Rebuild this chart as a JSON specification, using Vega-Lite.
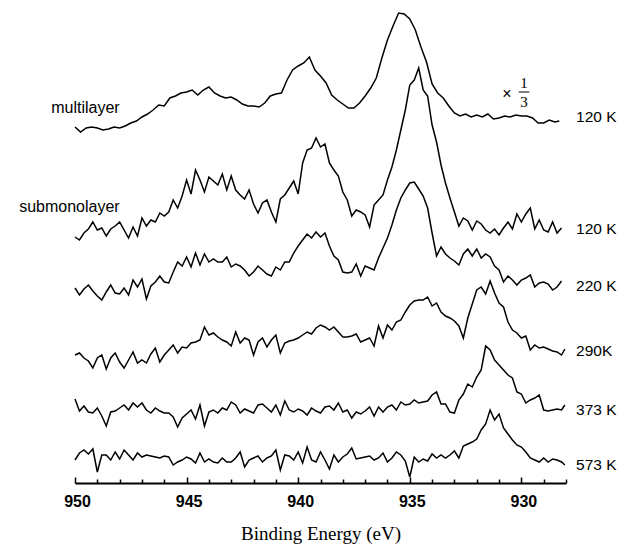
{
"$schema": "https://vega.github.io/schema/vega-lite/v6.json",
"width": 491, "height": 478,
"autosize": {"type": "none"},
"padding": {"left": 75, "top": 5, "right": 64, "bottom": 62},
"background": "white",
"config": {"view": {"stroke": null}},
"resolve": {"axis": {"x": "independent"}},
"datasets": {
"spectra": [
{"s":"m120","e":950,"v":356},{"s":"m120","e":949.75,"v":351},{"s":"m120","e":949.5,"v":355},{"s":"m120","e":949.25,"v":356},{"s":"m120","e":949,"v":355},{"s":"m120","e":948.75,"v":353},{"s":"m120","e":948.5,"v":354},{"s":"m120","e":948.25,"v":356},{"s":"m120","e":948,"v":355},{"s":"m120","e":947.75,"v":357},{"s":"m120","e":947.5,"v":360},{"s":"m120","e":947.25,"v":362},{"s":"m120","e":947,"v":366},{"s":"m120","e":946.75,"v":369},{"s":"m120","e":946.5,"v":373},{"s":"m120","e":946.25,"v":378},{"s":"m120","e":946,"v":377},{"s":"m120","e":945.75,"v":385},{"s":"m120","e":945.5,"v":387},{"s":"m120","e":945.25,"v":390},{"s":"m120","e":945,"v":391},{"s":"m120","e":944.75,"v":393},{"s":"m120","e":944.5,"v":388},{"s":"m120","e":944.25,"v":393},{"s":"m120","e":944,"v":396},{"s":"m120","e":943.75,"v":390},{"s":"m120","e":943.5,"v":387},{"s":"m120","e":943.25,"v":385},{"s":"m120","e":943,"v":386},{"s":"m120","e":942.75,"v":383},{"s":"m120","e":942.5,"v":379},{"s":"m120","e":942.25,"v":377},{"s":"m120","e":942,"v":377},{"s":"m120","e":941.75,"v":376},{"s":"m120","e":941.5,"v":380},{"s":"m120","e":941.25,"v":387},{"s":"m120","e":941,"v":389},{"s":"m120","e":940.75,"v":390},{"s":"m120","e":940.5,"v":403},{"s":"m120","e":940.25,"v":413},{"s":"m120","e":940,"v":417},{"s":"m120","e":939.75,"v":420},{"s":"m120","e":939.5,"v":426},{"s":"m120","e":939.25,"v":413},{"s":"m120","e":939,"v":407},{"s":"m120","e":938.75,"v":400},{"s":"m120","e":938.5,"v":388},{"s":"m120","e":938.25,"v":383},{"s":"m120","e":938,"v":379},{"s":"m120","e":937.75,"v":375},{"s":"m120","e":937.5,"v":375},{"s":"m120","e":937.25,"v":380},{"s":"m120","e":937,"v":387},{"s":"m120","e":936.75,"v":395},{"s":"m120","e":936.5,"v":405},{"s":"m120","e":936.25,"v":425},{"s":"m120","e":936,"v":443},{"s":"m120","e":935.75,"v":457},{"s":"m120","e":935.5,"v":470},{"s":"m120","e":935.25,"v":469},{"s":"m120","e":935,"v":464},{"s":"m120","e":934.75,"v":453},{"s":"m120","e":934.5,"v":436},{"s":"m120","e":934.25,"v":421},{"s":"m120","e":934,"v":399},{"s":"m120","e":933.75,"v":390},{"s":"m120","e":933.5,"v":385},{"s":"m120","e":933.25,"v":377},{"s":"m120","e":933,"v":370},{"s":"m120","e":932.75,"v":367},{"s":"m120","e":932.5,"v":369},{"s":"m120","e":932.25,"v":366},{"s":"m120","e":932,"v":368},{"s":"m120","e":931.75,"v":366},{"s":"m120","e":931.5,"v":369},{"s":"m120","e":931.25,"v":364},{"s":"m120","e":931,"v":365},{"s":"m120","e":930.75,"v":367},{"s":"m120","e":930.5,"v":366},{"s":"m120","e":930.25,"v":368},{"s":"m120","e":930,"v":367},{"s":"m120","e":929.75,"v":367},{"s":"m120","e":929.5,"v":365},{"s":"m120","e":929.25,"v":360},{"s":"m120","e":929,"v":360},{"s":"m120","e":928.75,"v":363},{"s":"m120","e":928.5,"v":361},{"s":"m120","e":928.3,"v":362},
{"s":"s120","e":950,"v":246},{"s":"s120","e":949.8,"v":243},{"s":"s120","e":949.6,"v":250},{"s":"s120","e":949.4,"v":254},{"s":"s120","e":949.2,"v":261},{"s":"s120","e":949,"v":253},{"s":"s120","e":948.8,"v":255},{"s":"s120","e":948.6,"v":247},{"s":"s120","e":948.4,"v":254},{"s":"s120","e":948.2,"v":257},{"s":"s120","e":948,"v":261},{"s":"s120","e":947.8,"v":253},{"s":"s120","e":947.6,"v":245},{"s":"s120","e":947.4,"v":256},{"s":"s120","e":947.2,"v":247},{"s":"s120","e":947,"v":265},{"s":"s120","e":946.8,"v":257},{"s":"s120","e":946.6,"v":263},{"s":"s120","e":946.4,"v":261},{"s":"s120","e":946.2,"v":270},{"s":"s120","e":946,"v":267},{"s":"s120","e":945.8,"v":271},{"s":"s120","e":945.6,"v":283},{"s":"s120","e":945.4,"v":275},{"s":"s120","e":945.2,"v":287},{"s":"s120","e":945,"v":303},{"s":"s120","e":944.8,"v":289},{"s":"s120","e":944.6,"v":313},{"s":"s120","e":944.4,"v":303},{"s":"s120","e":944.2,"v":291},{"s":"s120","e":944,"v":306},{"s":"s120","e":943.8,"v":302},{"s":"s120","e":943.6,"v":298},{"s":"s120","e":943.4,"v":309},{"s":"s120","e":943.2,"v":293},{"s":"s120","e":943,"v":307},{"s":"s120","e":942.8,"v":293},{"s":"s120","e":942.6,"v":288},{"s":"s120","e":942.4,"v":284},{"s":"s120","e":942.2,"v":293},{"s":"s120","e":942,"v":279},{"s":"s120","e":941.8,"v":270},{"s":"s120","e":941.6,"v":280},{"s":"s120","e":941.4,"v":283},{"s":"s120","e":941.2,"v":271},{"s":"s120","e":941,"v":261},{"s":"s120","e":940.8,"v":284},{"s":"s120","e":940.6,"v":288},{"s":"s120","e":940.4,"v":295},{"s":"s120","e":940.2,"v":302},{"s":"s120","e":940,"v":289},{"s":"s120","e":939.8,"v":320},{"s":"s120","e":939.6,"v":333},{"s":"s120","e":939.4,"v":335},{"s":"s120","e":939.2,"v":345},{"s":"s120","e":939,"v":336},{"s":"s120","e":938.8,"v":339},{"s":"s120","e":938.6,"v":320},{"s":"s120","e":938.4,"v":313},{"s":"s120","e":938.2,"v":307},{"s":"s120","e":938,"v":291},{"s":"s120","e":937.8,"v":283},{"s":"s120","e":937.6,"v":267},{"s":"s120","e":937.4,"v":273},{"s":"s120","e":937.2,"v":271},{"s":"s120","e":937,"v":268},{"s":"s120","e":936.8,"v":256},{"s":"s120","e":936.6,"v":278},{"s":"s120","e":936.4,"v":283},{"s":"s120","e":936.2,"v":288},{"s":"s120","e":936,"v":303},{"s":"s120","e":935.8,"v":316},{"s":"s120","e":935.6,"v":333},{"s":"s120","e":935.4,"v":353},{"s":"s120","e":935.2,"v":373},{"s":"s120","e":935,"v":398},{"s":"s120","e":934.8,"v":403},{"s":"s120","e":934.6,"v":415},{"s":"s120","e":934.4,"v":393},{"s":"s120","e":934.2,"v":387},{"s":"s120","e":934,"v":358},{"s":"s120","e":933.8,"v":341},{"s":"s120","e":933.6,"v":318},{"s":"s120","e":933.4,"v":300},{"s":"s120","e":933.2,"v":285},{"s":"s120","e":933,"v":271},{"s":"s120","e":932.8,"v":257},{"s":"s120","e":932.6,"v":265},{"s":"s120","e":932.4,"v":262},{"s":"s120","e":932.2,"v":253},{"s":"s120","e":932,"v":262},{"s":"s120","e":931.8,"v":259},{"s":"s120","e":931.6,"v":253},{"s":"s120","e":931.4,"v":250},{"s":"s120","e":931.2,"v":254},{"s":"s120","e":931,"v":248},{"s":"s120","e":930.8,"v":255},{"s":"s120","e":930.6,"v":261},{"s":"s120","e":930.4,"v":254},{"s":"s120","e":930.2,"v":269},{"s":"s120","e":930,"v":261},{"s":"s120","e":929.8,"v":269},{"s":"s120","e":929.6,"v":275},{"s":"s120","e":929.4,"v":254},{"s":"s120","e":929.2,"v":263},{"s":"s120","e":929,"v":253},{"s":"s120","e":928.8,"v":251},{"s":"s120","e":928.6,"v":261},{"s":"s120","e":928.4,"v":250},{"s":"s120","e":928.2,"v":255},
{"s":"s220","e":950,"v":195},{"s":"s220","e":949.8,"v":188},{"s":"s220","e":949.6,"v":194},{"s":"s220","e":949.4,"v":198},{"s":"s220","e":949.2,"v":192},{"s":"s220","e":949,"v":187},{"s":"s220","e":948.8,"v":183},{"s":"s220","e":948.6,"v":191},{"s":"s220","e":948.4,"v":198},{"s":"s220","e":948.2,"v":190},{"s":"s220","e":948,"v":189},{"s":"s220","e":947.8,"v":195},{"s":"s220","e":947.6,"v":188},{"s":"s220","e":947.4,"v":203},{"s":"s220","e":947.2,"v":196},{"s":"s220","e":947,"v":204},{"s":"s220","e":946.8,"v":184},{"s":"s220","e":946.6,"v":197},{"s":"s220","e":946.4,"v":201},{"s":"s220","e":946.2,"v":207},{"s":"s220","e":946,"v":201},{"s":"s220","e":945.8,"v":200},{"s":"s220","e":945.6,"v":211},{"s":"s220","e":945.4,"v":221},{"s":"s220","e":945.2,"v":217},{"s":"s220","e":945,"v":226},{"s":"s220","e":944.8,"v":216},{"s":"s220","e":944.6,"v":230},{"s":"s220","e":944.4,"v":218},{"s":"s220","e":944.2,"v":229},{"s":"s220","e":944,"v":221},{"s":"s220","e":943.8,"v":224},{"s":"s220","e":943.6,"v":221},{"s":"s220","e":943.4,"v":221},{"s":"s220","e":943.2,"v":226},{"s":"s220","e":943,"v":216},{"s":"s220","e":942.8,"v":219},{"s":"s220","e":942.6,"v":217},{"s":"s220","e":942.4,"v":213},{"s":"s220","e":942.2,"v":207},{"s":"s220","e":942,"v":211},{"s":"s220","e":941.8,"v":217},{"s":"s220","e":941.6,"v":213},{"s":"s220","e":941.4,"v":209},{"s":"s220","e":941.2,"v":207},{"s":"s220","e":941,"v":216},{"s":"s220","e":940.8,"v":213},{"s":"s220","e":940.6,"v":221},{"s":"s220","e":940.4,"v":221},{"s":"s220","e":940.2,"v":230},{"s":"s220","e":940,"v":237},{"s":"s220","e":939.8,"v":243},{"s":"s220","e":939.6,"v":249},{"s":"s220","e":939.4,"v":245},{"s":"s220","e":939.2,"v":251},{"s":"s220","e":939,"v":246},{"s":"s220","e":938.8,"v":250},{"s":"s220","e":938.6,"v":237},{"s":"s220","e":938.4,"v":227},{"s":"s220","e":938.2,"v":223},{"s":"s220","e":938,"v":211},{"s":"s220","e":937.8,"v":210},{"s":"s220","e":937.6,"v":211},{"s":"s220","e":937.4,"v":219},{"s":"s220","e":937.2,"v":207},{"s":"s220","e":937,"v":217},{"s":"s220","e":936.8,"v":215},{"s":"s220","e":936.6,"v":213},{"s":"s220","e":936.4,"v":225},{"s":"s220","e":936.2,"v":235},{"s":"s220","e":936,"v":245},{"s":"s220","e":935.8,"v":258},{"s":"s220","e":935.6,"v":273},{"s":"s220","e":935.4,"v":285},{"s":"s220","e":935.2,"v":293},{"s":"s220","e":935,"v":300},{"s":"s220","e":934.8,"v":301},{"s":"s220","e":934.6,"v":294},{"s":"s220","e":934.4,"v":287},{"s":"s220","e":934.2,"v":275},{"s":"s220","e":934,"v":250},{"s":"s220","e":933.8,"v":227},{"s":"s220","e":933.6,"v":236},{"s":"s220","e":933.4,"v":229},{"s":"s220","e":933.2,"v":225},{"s":"s220","e":933,"v":222},{"s":"s220","e":932.8,"v":218},{"s":"s220","e":932.6,"v":229},{"s":"s220","e":932.4,"v":234},{"s":"s220","e":932.2,"v":227},{"s":"s220","e":932,"v":234},{"s":"s220","e":931.8,"v":225},{"s":"s220","e":931.6,"v":229},{"s":"s220","e":931.4,"v":226},{"s":"s220","e":931.2,"v":217},{"s":"s220","e":931,"v":213},{"s":"s220","e":930.8,"v":201},{"s":"s220","e":930.6,"v":207},{"s":"s220","e":930.4,"v":203},{"s":"s220","e":930.2,"v":198},{"s":"s220","e":930,"v":203},{"s":"s220","e":929.8,"v":205},{"s":"s220","e":929.6,"v":208},{"s":"s220","e":929.4,"v":196},{"s":"s220","e":929.2,"v":200},{"s":"s220","e":929,"v":201},{"s":"s220","e":928.8,"v":199},{"s":"s220","e":928.6,"v":193},{"s":"s220","e":928.4,"v":196},{"s":"s220","e":928.2,"v":202},
{"s":"s290","e":950,"v":128},{"s":"s290","e":949.8,"v":130},{"s":"s290","e":949.6,"v":125},{"s":"s290","e":949.4,"v":122},{"s":"s290","e":949.2,"v":115},{"s":"s290","e":949,"v":125},{"s":"s290","e":948.8,"v":128},{"s":"s290","e":948.6,"v":114},{"s":"s290","e":948.4,"v":125},{"s":"s290","e":948.2,"v":130},{"s":"s290","e":948,"v":121},{"s":"s290","e":947.8,"v":115},{"s":"s290","e":947.6,"v":123},{"s":"s290","e":947.4,"v":131},{"s":"s290","e":947.2,"v":120},{"s":"s290","e":947,"v":123},{"s":"s290","e":946.8,"v":120},{"s":"s290","e":946.6,"v":129},{"s":"s290","e":946.4,"v":135},{"s":"s290","e":946.2,"v":121},{"s":"s290","e":946,"v":128},{"s":"s290","e":945.8,"v":133},{"s":"s290","e":945.6,"v":138},{"s":"s290","e":945.4,"v":130},{"s":"s290","e":945.2,"v":136},{"s":"s290","e":945,"v":135},{"s":"s290","e":944.8,"v":140},{"s":"s290","e":944.6,"v":141},{"s":"s290","e":944.4,"v":143},{"s":"s290","e":944.2,"v":156},{"s":"s290","e":944,"v":148},{"s":"s290","e":943.8,"v":150},{"s":"s290","e":943.6,"v":146},{"s":"s290","e":943.4,"v":143},{"s":"s290","e":943.2,"v":141},{"s":"s290","e":943,"v":137},{"s":"s290","e":942.8,"v":151},{"s":"s290","e":942.6,"v":140},{"s":"s290","e":942.4,"v":145},{"s":"s290","e":942.2,"v":143},{"s":"s290","e":942,"v":128},{"s":"s290","e":941.8,"v":141},{"s":"s290","e":941.6,"v":145},{"s":"s290","e":941.4,"v":136},{"s":"s290","e":941.2,"v":143},{"s":"s290","e":941,"v":148},{"s":"s290","e":940.8,"v":130},{"s":"s290","e":940.6,"v":140},{"s":"s290","e":940.4,"v":142},{"s":"s290","e":940.2,"v":143},{"s":"s290","e":940,"v":145},{"s":"s290","e":939.8,"v":148},{"s":"s290","e":939.6,"v":151},{"s":"s290","e":939.4,"v":149},{"s":"s290","e":939.2,"v":155},{"s":"s290","e":939,"v":158},{"s":"s290","e":938.8,"v":156},{"s":"s290","e":938.6,"v":153},{"s":"s290","e":938.4,"v":156},{"s":"s290","e":938.2,"v":151},{"s":"s290","e":938,"v":146},{"s":"s290","e":937.8,"v":146},{"s":"s290","e":937.6,"v":147},{"s":"s290","e":937.4,"v":149},{"s":"s290","e":937.2,"v":141},{"s":"s290","e":937,"v":143},{"s":"s290","e":936.8,"v":145},{"s":"s290","e":936.6,"v":137},{"s":"s290","e":936.4,"v":157},{"s":"s290","e":936.2,"v":145},{"s":"s290","e":936,"v":158},{"s":"s290","e":935.8,"v":153},{"s":"s290","e":935.6,"v":161},{"s":"s290","e":935.4,"v":163},{"s":"s290","e":935.2,"v":171},{"s":"s290","e":935,"v":178},{"s":"s290","e":934.8,"v":182},{"s":"s290","e":934.6,"v":183},{"s":"s290","e":934.4,"v":183},{"s":"s290","e":934.2,"v":186},{"s":"s290","e":934,"v":177},{"s":"s290","e":933.8,"v":180},{"s":"s290","e":933.6,"v":171},{"s":"s290","e":933.4,"v":167},{"s":"s290","e":933.2,"v":165},{"s":"s290","e":933,"v":162},{"s":"s290","e":932.8,"v":157},{"s":"s290","e":932.6,"v":145},{"s":"s290","e":932.4,"v":165},{"s":"s290","e":932.2,"v":179},{"s":"s290","e":932,"v":193},{"s":"s290","e":931.8,"v":196},{"s":"s290","e":931.6,"v":189},{"s":"s290","e":931.4,"v":202},{"s":"s290","e":931.2,"v":190},{"s":"s290","e":931,"v":180},{"s":"s290","e":930.8,"v":176},{"s":"s290","e":930.6,"v":161},{"s":"s290","e":930.4,"v":153},{"s":"s290","e":930.2,"v":150},{"s":"s290","e":930,"v":145},{"s":"s290","e":929.8,"v":147},{"s":"s290","e":929.6,"v":133},{"s":"s290","e":929.4,"v":138},{"s":"s290","e":929.2,"v":135},{"s":"s290","e":929,"v":136},{"s":"s290","e":928.8,"v":134},{"s":"s290","e":928.6,"v":132},{"s":"s290","e":928.4,"v":131},{"s":"s290","e":928.2,"v":128},{"s":"s290","e":928.05,"v":134},
{"s":"s373","e":950,"v":84},{"s":"s373","e":949.8,"v":72},{"s":"s373","e":949.6,"v":77},{"s":"s373","e":949.4,"v":71},{"s":"s373","e":949.2,"v":70},{"s":"s373","e":949,"v":75},{"s":"s373","e":948.8,"v":67},{"s":"s373","e":948.6,"v":57},{"s":"s373","e":948.4,"v":71},{"s":"s373","e":948.2,"v":72},{"s":"s373","e":948,"v":75},{"s":"s373","e":947.8,"v":78},{"s":"s373","e":947.6,"v":73},{"s":"s373","e":947.4,"v":80},{"s":"s373","e":947.2,"v":76},{"s":"s373","e":947,"v":80},{"s":"s373","e":946.8,"v":73},{"s":"s373","e":946.6,"v":70},{"s":"s373","e":946.4,"v":75},{"s":"s373","e":946.2,"v":72},{"s":"s373","e":946,"v":70},{"s":"s373","e":945.8,"v":70},{"s":"s373","e":945.6,"v":66},{"s":"s373","e":945.4,"v":56},{"s":"s373","e":945.2,"v":65},{"s":"s373","e":945,"v":69},{"s":"s373","e":944.8,"v":73},{"s":"s373","e":944.6,"v":64},{"s":"s373","e":944.4,"v":78},{"s":"s373","e":944.2,"v":57},{"s":"s373","e":944,"v":71},{"s":"s373","e":943.8,"v":73},{"s":"s373","e":943.6,"v":70},{"s":"s373","e":943.4,"v":75},{"s":"s373","e":943.2,"v":73},{"s":"s373","e":943,"v":81},{"s":"s373","e":942.8,"v":78},{"s":"s373","e":942.6,"v":70},{"s":"s373","e":942.4,"v":74},{"s":"s373","e":942.2,"v":72},{"s":"s373","e":942,"v":70},{"s":"s373","e":941.8,"v":78},{"s":"s373","e":941.6,"v":79},{"s":"s373","e":941.4,"v":75},{"s":"s373","e":941.2,"v":71},{"s":"s373","e":941,"v":78},{"s":"s373","e":940.8,"v":68},{"s":"s373","e":940.6,"v":82},{"s":"s373","e":940.4,"v":73},{"s":"s373","e":940.2,"v":71},{"s":"s373","e":940,"v":74},{"s":"s373","e":939.8,"v":72},{"s":"s373","e":939.6,"v":68},{"s":"s373","e":939.4,"v":75},{"s":"s373","e":939.2,"v":72},{"s":"s373","e":939,"v":70},{"s":"s373","e":938.8,"v":76},{"s":"s373","e":938.6,"v":77},{"s":"s373","e":938.4,"v":73},{"s":"s373","e":938.2,"v":80},{"s":"s373","e":938,"v":71},{"s":"s373","e":937.8,"v":73},{"s":"s373","e":937.6,"v":65},{"s":"s373","e":937.4,"v":71},{"s":"s373","e":937.2,"v":69},{"s":"s373","e":937,"v":72},{"s":"s373","e":936.8,"v":76},{"s":"s373","e":936.6,"v":67},{"s":"s373","e":936.4,"v":76},{"s":"s373","e":936.2,"v":71},{"s":"s373","e":936,"v":76},{"s":"s373","e":935.8,"v":78},{"s":"s373","e":935.6,"v":73},{"s":"s373","e":935.4,"v":81},{"s":"s373","e":935.2,"v":78},{"s":"s373","e":935,"v":79},{"s":"s373","e":934.8,"v":83},{"s":"s373","e":934.6,"v":80},{"s":"s373","e":934.4,"v":81},{"s":"s373","e":934.2,"v":82},{"s":"s373","e":934,"v":88},{"s":"s373","e":933.8,"v":91},{"s":"s373","e":933.6,"v":79},{"s":"s373","e":933.4,"v":79},{"s":"s373","e":933.2,"v":71},{"s":"s373","e":933,"v":70},{"s":"s373","e":932.8,"v":83},{"s":"s373","e":932.6,"v":89},{"s":"s373","e":932.4,"v":99},{"s":"s373","e":932.2,"v":96},{"s":"s373","e":932,"v":106},{"s":"s373","e":931.8,"v":113},{"s":"s373","e":931.6,"v":137},{"s":"s373","e":931.4,"v":133},{"s":"s373","e":931.2,"v":123},{"s":"s373","e":931,"v":118},{"s":"s373","e":930.8,"v":113},{"s":"s373","e":930.6,"v":108},{"s":"s373","e":930.4,"v":105},{"s":"s373","e":930.2,"v":91},{"s":"s373","e":930,"v":89},{"s":"s373","e":929.8,"v":80},{"s":"s373","e":929.6,"v":83},{"s":"s373","e":929.4,"v":85},{"s":"s373","e":929.2,"v":88},{"s":"s373","e":929,"v":73},{"s":"s373","e":928.8,"v":72},{"s":"s373","e":928.6,"v":73},{"s":"s373","e":928.4,"v":74},{"s":"s373","e":928.2,"v":73},{"s":"s373","e":928.05,"v":78},
{"s":"s573","e":950,"v":23},{"s":"s573","e":949.8,"v":30},{"s":"s573","e":949.6,"v":33},{"s":"s573","e":949.4,"v":29},{"s":"s573","e":949.2,"v":34},{"s":"s573","e":949,"v":11},{"s":"s573","e":948.8,"v":28},{"s":"s573","e":948.6,"v":28},{"s":"s573","e":948.4,"v":23},{"s":"s573","e":948.2,"v":31},{"s":"s573","e":948,"v":24},{"s":"s573","e":947.8,"v":33},{"s":"s573","e":947.6,"v":28},{"s":"s573","e":947.4,"v":23},{"s":"s573","e":947.2,"v":30},{"s":"s573","e":947,"v":26},{"s":"s573","e":946.8,"v":28},{"s":"s573","e":946.6,"v":27},{"s":"s573","e":946.4,"v":26},{"s":"s573","e":946.2,"v":25},{"s":"s573","e":946,"v":27},{"s":"s573","e":945.8,"v":26},{"s":"s573","e":945.6,"v":18},{"s":"s573","e":945.4,"v":21},{"s":"s573","e":945.2,"v":23},{"s":"s573","e":945,"v":26},{"s":"s573","e":944.8,"v":24},{"s":"s573","e":944.6,"v":20},{"s":"s573","e":944.4,"v":30},{"s":"s573","e":944.2,"v":21},{"s":"s573","e":944,"v":24},{"s":"s573","e":943.8,"v":21},{"s":"s573","e":943.6,"v":20},{"s":"s573","e":943.4,"v":25},{"s":"s573","e":943.2,"v":21},{"s":"s573","e":943,"v":21},{"s":"s573","e":942.8,"v":25},{"s":"s573","e":942.6,"v":31},{"s":"s573","e":942.4,"v":16},{"s":"s573","e":942.2,"v":23},{"s":"s573","e":942,"v":25},{"s":"s573","e":941.8,"v":27},{"s":"s573","e":941.6,"v":21},{"s":"s573","e":941.4,"v":25},{"s":"s573","e":941.2,"v":27},{"s":"s573","e":941,"v":33},{"s":"s573","e":940.8,"v":13},{"s":"s573","e":940.6,"v":28},{"s":"s573","e":940.4,"v":27},{"s":"s573","e":940.2,"v":23},{"s":"s573","e":940,"v":31},{"s":"s573","e":939.8,"v":20},{"s":"s573","e":939.6,"v":36},{"s":"s573","e":939.4,"v":23},{"s":"s573","e":939.2,"v":21},{"s":"s573","e":939,"v":31},{"s":"s573","e":938.8,"v":23},{"s":"s573","e":938.6,"v":14},{"s":"s573","e":938.4,"v":28},{"s":"s573","e":938.2,"v":21},{"s":"s573","e":938,"v":26},{"s":"s573","e":937.8,"v":29},{"s":"s573","e":937.6,"v":35},{"s":"s573","e":937.4,"v":24},{"s":"s573","e":937.2,"v":25},{"s":"s573","e":937,"v":26},{"s":"s573","e":936.8,"v":27},{"s":"s573","e":936.6,"v":23},{"s":"s573","e":936.4,"v":25},{"s":"s573","e":936.2,"v":30},{"s":"s573","e":936,"v":21},{"s":"s573","e":935.8,"v":25},{"s":"s573","e":935.6,"v":31},{"s":"s573","e":935.4,"v":28},{"s":"s573","e":935.2,"v":22},{"s":"s573","e":935,"v":6},{"s":"s573","e":934.8,"v":26},{"s":"s573","e":934.6,"v":21},{"s":"s573","e":934.4,"v":24},{"s":"s573","e":934.2,"v":22},{"s":"s573","e":934,"v":29},{"s":"s573","e":933.8,"v":25},{"s":"s573","e":933.6,"v":28},{"s":"s573","e":933.4,"v":25},{"s":"s573","e":933.2,"v":28},{"s":"s573","e":933,"v":32},{"s":"s573","e":932.8,"v":25},{"s":"s573","e":932.6,"v":37},{"s":"s573","e":932.4,"v":39},{"s":"s573","e":932.2,"v":41},{"s":"s573","e":932,"v":44},{"s":"s573","e":931.8,"v":53},{"s":"s573","e":931.6,"v":59},{"s":"s573","e":931.4,"v":73},{"s":"s573","e":931.2,"v":63},{"s":"s573","e":931,"v":69},{"s":"s573","e":930.8,"v":55},{"s":"s573","e":930.6,"v":49},{"s":"s573","e":930.4,"v":43},{"s":"s573","e":930.2,"v":38},{"s":"s573","e":930,"v":36},{"s":"s573","e":929.8,"v":31},{"s":"s573","e":929.6,"v":25},{"s":"s573","e":929.4,"v":23},{"s":"s573","e":929.2,"v":21},{"s":"s573","e":929,"v":25},{"s":"s573","e":928.8,"v":21},{"s":"s573","e":928.6,"v":24},{"s":"s573","e":928.4,"v":23},{"s":"s573","e":928.2,"v":21},{"s":"s573","e":928.05,"v":18}
],
"leftLabels": [{"t":"multilayer","e":948.0,"v":375},{"t":"submonolayer","e":948.0,"v":276}],
"rightLabels": [{"t":"120 K","e":927.55,"v":366},{"t":"120 K","e":927.55,"v":254},{"t":"220 K","e":927.55,"v":197},{"t":"290K","e":927.55,"v":132},{"t":"373 K","e":927.55,"v":73},{"t":"573 K","e":927.55,"v":18}],
"times": [{"t":"×","e":930.65,"v":389}],
"fraction": [{"t":"1","e":929.88,"v":400},{"t":"3","e":929.88,"v":381}],
"bar": [{"e":930.12,"e2":929.64,"v":391}]
},
"layer": [
{"data": {"name": "spectra"},
 "mark": {"type": "line", "color": "black", "strokeWidth": 1.5, "clip": false},
 "encoding": {
  "x": {"field": "e", "type": "quantitative",
   "scale": {"domain": [928, 950], "reverse": true, "nice": false, "zero": false},
   "axis": {"orient": "bottom", "values": [950,945,940,935,930],
     "format": "d", "grid": false, "labelFlush": false, "labelOverlap": false,
     "domainColor": "black", "domainWidth": 2, "tickColor": "black", "tickWidth": 1.5,
     "tickSize": -6, "labelPadding": 16, "labelOffset": 2,
     "labelFont": "Liberation Sans", "labelFontWeight": "bold", "labelFontSize": 16, "labelColor": "black",
     "title": "Binding Energy (eV)", "titleFont": "Liberation Serif", "titleFontSize": 19, "titleFontWeight": "normal", "titleColor": "black", "titlePadding": 15}},
  "y": {"field": "v", "type": "quantitative", "scale": {"domain": [0, 478], "nice": false, "zero": false}, "axis": null},
  "detail": {"field": "s"}
 }},
{"data": {"name": "leftLabels"},
 "mark": {"type": "text", "align": "right", "baseline": "middle", "font": "Liberation Sans", "fontSize": 16, "color": "black"},
 "encoding": {"x": {"field": "e", "type": "quantitative", "axis": null}, "y": {"field": "v", "type": "quantitative", "axis": null}, "text": {"field": "t"}}},
{"data": {"name": "rightLabels"},
 "mark": {"type": "text", "align": "left", "baseline": "middle", "font": "Liberation Sans", "fontSize": 15.5, "color": "black"},
 "encoding": {"x": {"field": "e", "type": "quantitative", "axis": null}, "y": {"field": "v", "type": "quantitative", "axis": null}, "text": {"field": "t"}}},
{"data": {"name": "times"},
 "mark": {"type": "text", "align": "center", "baseline": "middle", "font": "Liberation Sans", "fontSize": 16, "color": "black"},
 "encoding": {"x": {"field": "e", "type": "quantitative", "axis": null}, "y": {"field": "v", "type": "quantitative", "axis": null}, "text": {"field": "t"}}},
{"data": {"name": "fraction"},
 "mark": {"type": "text", "align": "center", "baseline": "middle", "font": "Liberation Serif", "fontSize": 15, "color": "black"},
 "encoding": {"x": {"field": "e", "type": "quantitative", "axis": null}, "y": {"field": "v", "type": "quantitative", "axis": null}, "text": {"field": "t"}}},
{"data": {"name": "bar"},
 "mark": {"type": "rule", "color": "black", "strokeWidth": 1},
 "encoding": {"x": {"field": "e", "type": "quantitative",
   "axis": {"orient": "bottom", "values": [949,948,947,946,944,943,942,941,939,938,937,936,934,933,932,931,929,928],
     "labels": false, "domain": false, "grid": false, "title": null, "tickColor": "black", "tickWidth": 1.5, "tickSize": -4}},
  "x2": {"field": "e2"}, "y": {"field": "v", "type": "quantitative", "axis": null}}}
]
}
